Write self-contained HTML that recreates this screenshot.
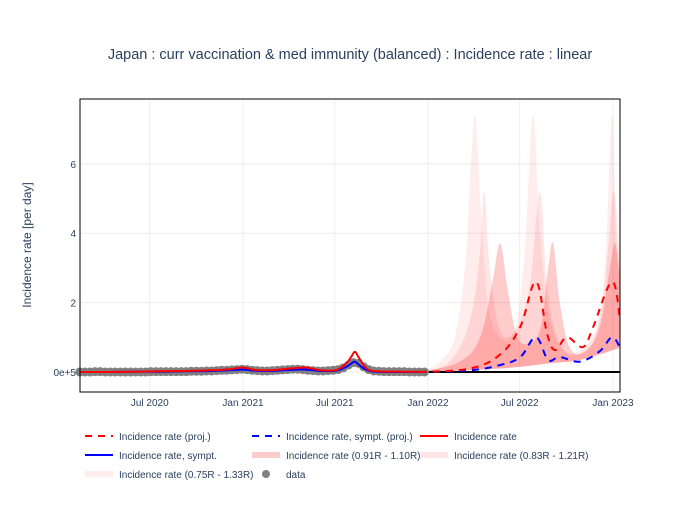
<!DOCTYPE html>
<html><head><meta charset="utf-8"><style>
body{margin:0;background:#fff;}
svg{font-family:"Liberation Sans","Open Sans",sans-serif;}
</style></head><body>
<svg id="chart" width="700" height="500" viewBox="0 0 700 500" xmlns="http://www.w3.org/2000/svg">
<rect width="700" height="500" fill="#fff"/>
<text x="350" y="59" text-anchor="middle" font-size="14.5" fill="#2a3f5f">Japan : curr vaccination &amp; med immunity (balanced) : Incidence rate : linear</text>
<text transform="translate(31,245) rotate(-90)" text-anchor="middle" font-size="12" fill="#2a3f5f">Incidence rate [per day]</text>
<g id="grid"></g>
<g id="bands"></g>
<g id="series"></g>
<rect x="80" y="99" width="540" height="293" fill="none" stroke="#000" stroke-width="1"/>
<g id="ticks"></g>
<g id="legend"></g>
</svg>
<script>
const xTickDays=[182,366,547,731,912,1096];
const xTickLabels=["Jul 2020","Jan 2021","Jul 2021","Jan 2022","Jul 2022","Jan 2023"];
const yTickVals=[0,2,4,6];
const yTickLabels=["0e+5","2","4","6"];
const histDays=[44,100,150,200,250,300,340,366,390,420,460,490,520,550,570,580,587,595,610,630,680,725];
const histRed=[0,0,0.01,0.02,0.03,0.05,0.08,0.13,0.06,0.05,0.1,0.13,0.05,0.06,0.25,0.45,0.58,0.4,0.1,0.02,0.01,0.01];
const histBlue=[0,0,0.01,0.01,0.02,0.03,0.05,0.07,0.04,0.03,0.06,0.07,0.03,0.04,0.15,0.25,0.3,0.2,0.06,0.01,0,0];
const dataDays=[44,54,64,74,84,94,104,114,124,134,144,154,164,174,184,194,204,214,224,234,244,254,264,274,284,294,304,314,324,334,344,354,364,374,384,394,404,414,424,434,444,454,464,474,484,494,504,514,524,534,544,554,564,574,584,594,604,614,624,634,644,654,664,674,684,694,704,714,724];
const dataVals=[0,0,0,0.01,0.01,0,0,0,0,0,0,0,0,0,0.01,0.01,0.01,0.01,0.01,0.01,0.01,0.01,0.02,0.02,0.02,0.03,0.03,0.04,0.05,0.05,0.06,0.07,0.08,0.07,0.05,0.04,0.03,0.03,0.04,0.05,0.06,0.07,0.08,0.08,0.07,0.05,0.04,0.03,0.03,0.04,0.05,0.07,0.12,0.2,0.27,0.25,0.15,0.07,0.03,0.02,0.01,0.01,0.01,0.01,0.01,0,0,0,0];
const projDays=[715,814,873,913,944,966,982,1005,1037,1057,1094,1110];
const projRed=[0,0.1,0.5,1.3,2.6,1.1,0.63,1.0,0.72,1.3,2.6,1.5];
const projBlueDays=[715,814,873,913,944,968,991,1031,1070,1094,1110];
const projBlue=[0,0.05,0.2,0.43,1.0,0.35,0.43,0.3,0.6,1.0,0.7];
const b3Days=[715,755,784,804,814,824,834,849,873,903,922,938,952,972,1001,1031,1060,1080,1094,1102,1110];
const b3Up=[0,0.3,1,3,5.5,7.4,5,2,1,1.2,3.5,7.4,4,1.5,0.6,0.5,1,3,7.4,4,2.5];
const b2Days=[715,774,814,834,842,853,873,903,932,952,966,991,1031,1070,1086,1098,1110];
const b2Up=[0,0.3,1.5,3.5,5.2,3,1.2,1.2,2.5,5.2,2.5,0.8,0.6,1.5,3.5,5.2,3];
const b1Days=[715,794,834,857,873,887,903,922,952,968,978,991,1011,1041,1070,1090,1100,1110];
const b1Up=[0,0.3,1,2.5,3.7,2.5,1.2,0.8,1.2,3,3.7,2,0.7,0.6,1.3,3,3.7,2.8];
const lowDays=[715,873,972,1031,1110];
const lowVals=[0,0.1,0.25,0.35,0.7];

const NS="http://www.w3.org/2000/svg";
const X=d=>243+(d-366)*0.5068;
const Y=v=>372-v*34.7;
function mk(tag,attrs,parent){const e=document.createElementNS(NS,tag);for(const k in attrs)e.setAttribute(k,attrs[k]);document.getElementById(parent).appendChild(e);return e;}
function pp(ds,vs){return ds.map((d,i)=>[X(d),Y(vs[i])]);}
function smooth(p,start){
  let s=start?('M'+p[0][0].toFixed(1)+','+p[0][1].toFixed(1)):('L'+p[0][0].toFixed(1)+','+p[0][1].toFixed(1));
  const t=0.18;
  for(let i=0;i<p.length-1;i++){
    const p0=p[i-1]||p[i],p1=p[i],p2=p[i+1],p3=p[i+2]||p[i+1];
    const c1=[p1[0]+(p2[0]-p0[0])*t,Math.min(p1[1]+(p2[1]-p0[1])*t,372)];
    const c2=[p2[0]-(p3[0]-p1[0])*t,Math.min(p2[1]-(p3[1]-p1[1])*t,372)];
    s+='C'+c1.map(v=>v.toFixed(1)).join(',')+' '+c2.map(v=>v.toFixed(1)).join(',')+' '+p2[0].toFixed(1)+','+p2[1].toFixed(1);
  }
  return s;
}
xTickDays.forEach((d,i)=>{
  const g=mk('line',{x1:X(d),x2:X(d),y1:99,y2:392,stroke:'#eee'},'grid');
  
  
  const t=mk('text',{x:X(d),y:406,'text-anchor':'middle','font-size':10,fill:'#2a3f5f'},'ticks');
  t.textContent=xTickLabels[i];
  
  
});
yTickVals.forEach((v,i)=>{
  const g=mk('line',{x1:80,x2:620,y1:Y(v),y2:Y(v),stroke:'#eee'},'grid');
  
  
  const t=mk('text',{x:76,y:Y(v)+4,'text-anchor':'end','font-size':10,fill:'#2a3f5f'},'ticks');
  t.textContent=yTickLabels[i];
  
  
});
function band(ds,vs,fill,name){
  const up=pp(ds,vs);const lo=pp(lowDays,lowVals).reverse();
  const p=mk('path',{d:smooth(up,true)+smooth(lo,false)+'Z',fill:fill},'bands');
  
  
}
band(b3Days,b3Up,'rgba(255,0,0,0.07)','band-075-133');
band(b2Days,b2Up,'rgba(255,0,0,0.1)','band-083-121');
band(b1Days,b1Up,'rgba(255,0,0,0.2)','band-091-110');
const zl=mk('line',{x1:X(725),x2:620,y1:Y(0),y2:Y(0),stroke:'#000','stroke-width':2},'series');


dataDays.forEach((d,i)=>{
  const c=mk('circle',{cx:X(d),cy:Y(dataVals[i]),r:4.5,fill:'grey'},'series');
  
  
});
function line(ds,vs,col,dash,name){
  const p=mk('path',{d:smooth(pp(ds,vs),true),fill:'none',stroke:col,'stroke-width':2,'stroke-dasharray':dash||'none','stroke-linejoin':'round'},'series');
  
  
}
line(histDays,histBlue,'blue','','incidence-sympt-line');
line(histDays,histRed,'red','','incidence-line');
line(projBlueDays,projBlue,'blue','7,6','incidence-sympt-proj-line');
line(projDays,projRed,'red','7,6','incidence-proj-line');
const leg=[
 [85,436,'dash','red','Incidence rate (proj.)'],
 [252,436,'dash','blue','Incidence rate, sympt. (proj.)'],
 [420,436,'line','red','Incidence rate'],
 [85,455,'line','blue','Incidence rate, sympt.'],
 [252,455,'rect','rgba(255,0,0,0.2)','Incidence rate (0.91R - 1.10R)'],
 [420,455,'rect','rgba(255,0,0,0.1)','Incidence rate (0.83R - 1.21R)'],
 [85,474,'rect','rgba(255,0,0,0.07)','Incidence rate (0.75R - 1.33R)'],
 [252,474,'dot','grey','data']];
leg.forEach(l=>{
  const [x,y,kind,col,label]=l;
  const g=mk('g',{},'legend');
  
  
  let s;
  if(kind==='dash'||kind==='line'){s=document.createElementNS(NS,'line');s.setAttribute('x1',x);s.setAttribute('x2',x+28);s.setAttribute('y1',y);s.setAttribute('y2',y);s.setAttribute('stroke',col);s.setAttribute('stroke-width',2);if(kind==='dash')s.setAttribute('stroke-dasharray','7,6');}
  else if(kind==='rect'){s=document.createElementNS(NS,'rect');s.setAttribute('x',x);s.setAttribute('y',y-3);s.setAttribute('width',28);s.setAttribute('height',6);s.setAttribute('fill',col);}
  else {s=document.createElementNS(NS,'circle');s.setAttribute('cx',x+14);s.setAttribute('cy',y);s.setAttribute('r',4);s.setAttribute('fill',col);}
  g.appendChild(s);
  const t=document.createElementNS(NS,'text');t.setAttribute('x',x+34);t.setAttribute('y',y+4);t.setAttribute('font-size',10);t.setAttribute('fill','#2a3f5f');t.textContent=label;g.appendChild(t);
});
</script>
</body></html>
